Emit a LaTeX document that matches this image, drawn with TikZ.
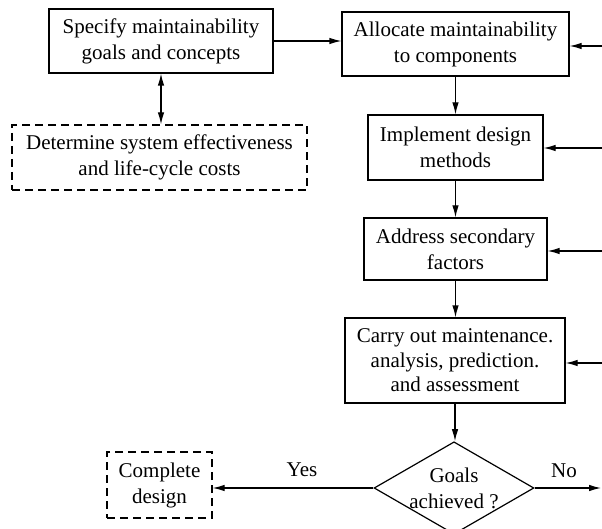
\documentclass[tikz,border=0pt]{standalone}
\usepackage{fontspec}
\setmainfont{Liberation Serif}
\usetikzlibrary{arrows.meta,shapes.geometric}

\tikzset{
  every node/.style={font=\fontsize{21}{26}\selectfont},
  box/.style={draw, line width=1.2pt, align=center, inner sep=0pt, minimum width=#1},
  optbox/.style={box=#1, dash pattern=on 8pt off 5pt},
  decision/.style={draw, line width=1.2pt, diamond, align=center, inner sep=0pt,
                   minimum width=156pt, minimum height=90pt, aspect=1.73},
  flow/.style={line width=1.2pt, -{Latex[length=12pt,width=6.5pt]}},
  twoway/.style={line width=1.2pt, {Latex[length=12pt,width=6.5pt]}-{Latex[length=12pt,width=6.5pt]}},
  lbl/.style={inner sep=0pt}
}

\begin{document}
\begin{tikzpicture}[x=1pt,y=-1pt]
  \useasboundingbox (0,0) rectangle (602,529);

  % main chain of design steps
  \node[box=224pt, minimum height=64pt] (spec) at (161,41)
    {Specify maintainability\\goals and concepts};
  \node[box=227pt, minimum height=64pt] (alloc) at (455.5,44)
    {Allocate maintainability\\to components};
  \node[optbox=295pt, minimum height=65pt] (cost) at (159.5,157.5)
    {Determine system effectiveness\\and life-cycle costs};
  \node[box=175pt, minimum height=65pt] (impl) at (455.5,147.5)
    {Implement design\\methods};
  \node[box=183pt, minimum height=62pt] (second) at (455.5,249)
    {Address secondary\\factors};
  \node[box=220pt, minimum height=85pt, font=\fontsize{21}{24.5}\selectfont] (assess) at (455,360.5)
    {Carry out maintenance.\\analysis, prediction.\\and assessment};
  \node[decision] (goals) at (454,488) {Goals\\achieved ?};
  \node[optbox=105pt, minimum height=66pt] (done) at (159.5,485)
    {Complete\\design};

  % loose ends of the feedback loop at the right border
  \coordinate (fbA) at (602,46);
  \coordinate (fbB) at (602,148);
  \coordinate (fbC) at (602,251);
  \coordinate (fbD) at (602,363);
  \coordinate (noEnd) at (601,488);

  % connectors
  \draw[flow] (spec.east) -- (spec.east -| alloc.west);
  \draw[twoway] (spec.south) -- (spec.south |- cost.north);
  \draw[flow] (alloc.south) -- (impl.north);
  \draw[flow] (impl.south) -- (impl.south |- second.north);
  \draw[flow] (second.south) -- (second.south |- assess.north);
  \draw[flow] (assess.south) -- (assess.south |- goals.north);
  \draw[flow] (goals.west) -- (goals.west -| done.east);
  \draw[flow] (goals.east) -- (noEnd);

  \draw[flow] (fbA) -- (fbA -| alloc.east);
  \draw[flow] (fbB) -- (fbB -| impl.east);
  \draw[flow] (fbC) -- (fbC -| second.east);
  \draw[flow] (fbD) -- (fbD -| assess.east);

  % branch labels
  \node[lbl] (yes) at (302,470) {Yes};
  \node[lbl] (no) at (564,471) {No};
\end{tikzpicture}
\end{document}
